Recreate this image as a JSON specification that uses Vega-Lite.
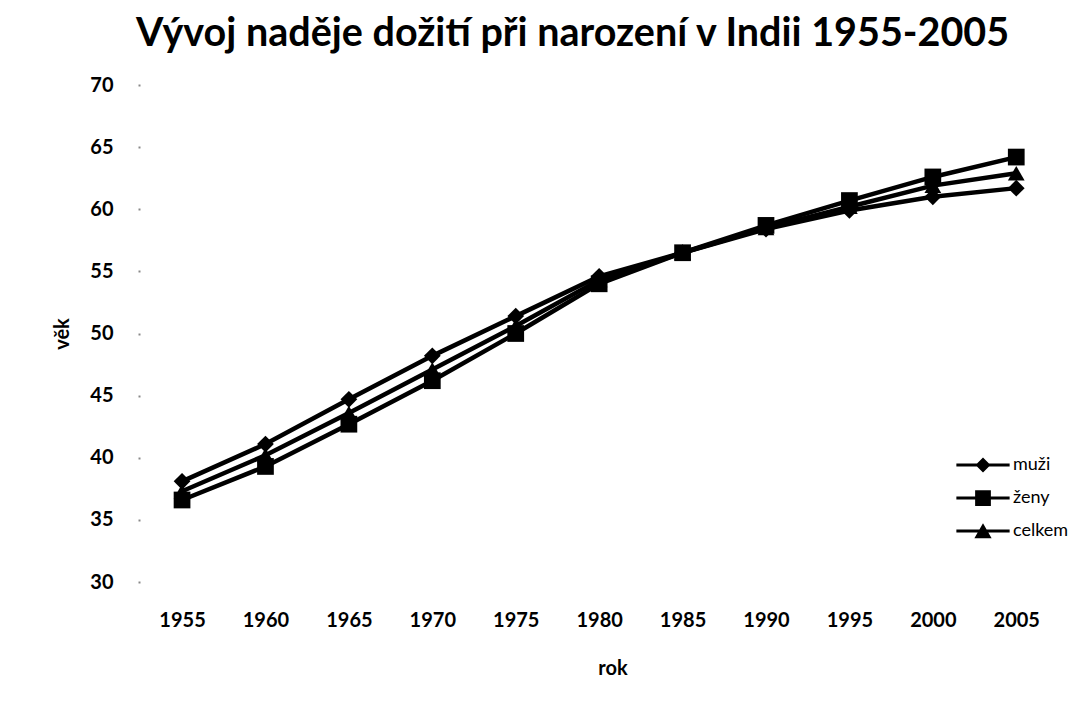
{
  "$schema": "https://vega.github.io/schema/vega-lite/v6.json",
  "width": 945,
  "height": 497,
  "autosize": "none",
  "padding": {"left": 140, "top": 85, "right": 0, "bottom": 121},
  "background": "white",
  "title": {
    "text": "Vývoj naděje dožití při narození v Indii 1955-2005",
    "font": "Lato",
    "fontSize": 39.5,
    "fontWeight": "bold",
    "color": "black",
    "anchor": "start",
    "frame": "group",
    "dx": -4,
    "offset": 21
  },
  "config": {
    "view": {"stroke": null},
    "font": "Lato"
  },
  "data": {
    "values": [
      {"rok": 1955, "serie": "muži", "vek": 38.1},
      {"rok": 1960, "serie": "muži", "vek": 41.1},
      {"rok": 1965, "serie": "muži", "vek": 44.7},
      {"rok": 1970, "serie": "muži", "vek": 48.2},
      {"rok": 1975, "serie": "muži", "vek": 51.4},
      {"rok": 1980, "serie": "muži", "vek": 54.6},
      {"rok": 1985, "serie": "muži", "vek": 56.5},
      {"rok": 1990, "serie": "muži", "vek": 58.4},
      {"rok": 1995, "serie": "muži", "vek": 59.9},
      {"rok": 2000, "serie": "muži", "vek": 61.0},
      {"rok": 2005, "serie": "muži", "vek": 61.7},
      {"rok": 1955, "serie": "ženy", "vek": 36.6},
      {"rok": 1960, "serie": "ženy", "vek": 39.3},
      {"rok": 1965, "serie": "ženy", "vek": 42.7},
      {"rok": 1970, "serie": "ženy", "vek": 46.2},
      {"rok": 1975, "serie": "ženy", "vek": 50.0},
      {"rok": 1980, "serie": "ženy", "vek": 54.0},
      {"rok": 1985, "serie": "ženy", "vek": 56.5},
      {"rok": 1990, "serie": "ženy", "vek": 58.7},
      {"rok": 1995, "serie": "ženy", "vek": 60.7},
      {"rok": 2000, "serie": "ženy", "vek": 62.6},
      {"rok": 2005, "serie": "ženy", "vek": 64.2},
      {"rok": 1955, "serie": "celkem", "vek": 37.3},
      {"rok": 1960, "serie": "celkem", "vek": 40.2},
      {"rok": 1965, "serie": "celkem", "vek": 43.6},
      {"rok": 1970, "serie": "celkem", "vek": 47.1},
      {"rok": 1975, "serie": "celkem", "vek": 50.6},
      {"rok": 1980, "serie": "celkem", "vek": 54.3},
      {"rok": 1985, "serie": "celkem", "vek": 56.5},
      {"rok": 1990, "serie": "celkem", "vek": 58.5},
      {"rok": 1995, "serie": "celkem", "vek": 60.2},
      {"rok": 2000, "serie": "celkem", "vek": 61.9},
      {"rok": 2005, "serie": "celkem", "vek": 62.9}
    ]
  },
  "encoding": {
    "x": {
      "field": "rok",
      "type": "quantitative",
      "scale": {"domain": [1952.48, 2009.12], "nice": false, "zero": false},
      "axis": {
        "values": [1955, 1960, 1965, 1970, 1975, 1980, 1985, 1990, 1995, 2000, 2005],
        "format": "d",
        "grid": false,
        "domain": false,
        "ticks": false,
        "labelFont": "Lato",
        "labelFontSize": 20,
        "labelFontWeight": "bold",
        "labelColor": "black",
        "labelPadding": 28,
        "title": "rok",
        "titleFont": "Lato",
        "titleFontSize": 20,
        "titleFontWeight": "bold",
        "titleColor": "black",
        "titlePadding": 28
      }
    },
    "y": {
      "field": "vek",
      "type": "quantitative",
      "scale": {"domain": [30, 70], "nice": false, "zero": false},
      "axis": {
        "values": [30, 35, 40, 45, 50, 55, 60, 65, 70],
        "grid": false,
        "domain": false,
        "tickSize": 2,
        "tickWidth": 2,
        "tickColor": "#888888",
        "labelFont": "Lato",
        "labelFontSize": 20,
        "labelFontWeight": "bold",
        "labelColor": "black",
        "labelPadding": 25,
        "title": "věk",
        "titleAngle": 270,
        "titleFont": "Lato",
        "titleFontSize": 20,
        "titleFontWeight": "bold",
        "titleColor": "black",
        "titlePadding": 17
      }
    }
  },
  "layer": [
    {
      "mark": {"type": "line", "color": "black", "strokeWidth": 4.5},
      "encoding": {"detail": {"field": "serie"}}
    },
    {
      "mark": {"type": "point", "filled": true, "color": "black", "size": 280, "opacity": 1},
      "encoding": {
        "shape": {
          "field": "serie",
          "type": "nominal",
          "scale": {"domain": ["muži", "ženy", "celkem"], "range": ["diamond", "square", "triangle-up"]},
          "legend": null
        }
      }
    },
    {
      "mark": {"type": "point", "filled": true, "color": "black", "size": 225, "opacity": 0},
      "encoding": {
        "shape": {
          "field": "serie",
          "type": "nominal",
          "scale": {
            "domain": ["muži", "ženy", "celkem"],
            "range": [
              "M-3.55,-0.2L3.55,-0.2L3.55,0.2L-3.55,0.2Z M0,-1L1,0L0,1L-1,0Z",
              "M-3.55,-0.2L3.55,-0.2L3.55,0.2L-3.55,0.2Z M-1.05,-1.05L1.05,-1.05L1.05,1.05L-1.05,1.05Z",
              "M-3.55,-0.2L3.55,-0.2L3.55,0.2L-3.55,0.2Z M0,-1.05L1.15,0.95L-1.15,0.95Z"
            ]
          },
          "legend": {
            "title": null,
            "orient": "none",
            "legendX": 834,
            "legendY": 371,
            "symbolOpacity": 1,
            "symbolFillColor": "black",
            "symbolStrokeWidth": 0,
            "symbolSize": 225,
            "labelFont": "Lato",
            "labelFontSize": 18,
            "labelColor": "black",
            "labelOffset": 21,
            "rowPadding": 15
          }
        }
      }
    }
  ],
  "resolve": {"scale": {"shape": "independent"}}
}
